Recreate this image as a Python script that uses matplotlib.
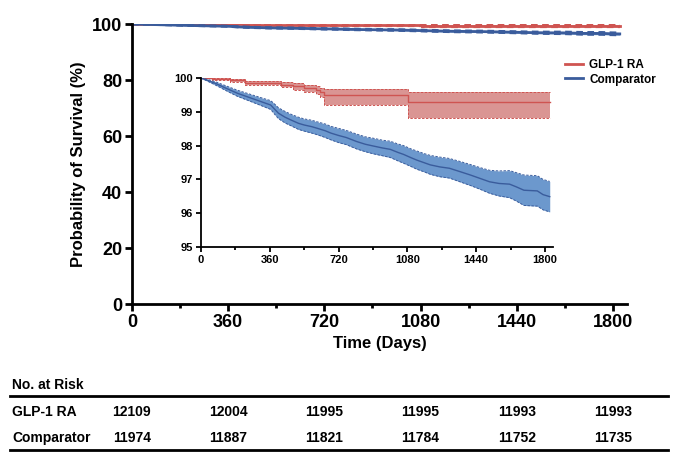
import matplotlib
matplotlib.use("Agg")
import matplotlib.pyplot as plt
from matplotlib.lines import Line2D
from matplotlib.ticker import MultipleLocator
import matplotlib.transforms as mtransforms

plt.rcParams['font.family'] = ['Liberation Sans', 'DejaVu Sans']
plt.rcParams['font.weight'] = 'bold'

# Kaplan-Meier estimates (days, survival %, 95% CI)
glp_days = [0, 60, 150, 230, 420, 480, 540, 600, 625, 645, 1085, 1825]
glp_surv = [100, 99.98, 99.93, 99.85, 99.80, 99.75, 99.70, 99.65, 99.58, 99.50, 99.30, 99.30]
glp_upper = [100, 100, 99.98, 99.92, 99.88, 99.84, 99.80, 99.76, 99.70, 99.67, 99.58, 99.58]
glp_lower = [100, 99.95, 99.88, 99.78, 99.72, 99.66, 99.60, 99.54, 99.44, 99.20, 98.81, 98.81]

cmp_days = [0, 40, 80, 130, 190, 240, 290, 330, 365, 385, 405, 440, 470, 510, 540,
            580, 610, 650, 680, 720, 760, 815, 860, 900, 950, 990, 1030, 1060, 1100,
            1130, 1170, 1200, 1250, 1300, 1350, 1410, 1460, 1510, 1560, 1615, 1650,
            1690, 1760, 1790, 1825]
cmp_surv = [100, 99.92, 99.83, 99.70, 99.55, 99.45, 99.35, 99.27, 99.20, 99.08, 98.96,
            98.84, 98.76, 98.66, 98.61, 98.56, 98.51, 98.44, 98.37, 98.30, 98.24, 98.12,
            98.04, 97.99, 97.93, 97.89, 97.80, 97.74, 97.64, 97.57, 97.49, 97.43, 97.37,
            97.33, 97.24, 97.13, 97.03, 96.93, 96.88, 96.86, 96.78, 96.68, 96.66, 96.55,
            96.49]
cmp_upper = [100, 99.95, 99.88, 99.77, 99.64, 99.55, 99.46, 99.39, 99.33, 99.23, 99.12,
             99.01, 98.93, 98.84, 98.79, 98.75, 98.70, 98.64, 98.57, 98.51, 98.45, 98.34,
             98.26, 98.22, 98.16, 98.13, 98.05, 98.00, 97.90, 97.84, 97.76, 97.71, 97.66,
             97.62, 97.54, 97.44, 97.35, 97.27, 97.25, 97.26, 97.20, 97.13, 97.11, 97.00,
             96.94]
cmp_lower = [100, 99.89, 99.78, 99.63, 99.46, 99.35, 99.24, 99.15, 99.07, 98.93, 98.80,
             98.67, 98.59, 98.48, 98.43, 98.37, 98.32, 98.24, 98.17, 98.09, 98.03, 97.90,
             97.82, 97.76, 97.70, 97.65, 97.55, 97.48, 97.38, 97.30, 97.22, 97.15, 97.08,
             97.04, 96.94, 96.82, 96.71, 96.59, 96.51, 96.46, 96.36, 96.23, 96.21, 96.10,
             96.04]

risk_times = [0, 360, 720, 1080, 1440, 1800]
risk_glp = [12109, 12004, 11995, 11995, 11993, 11993]
risk_cmp = [11974, 11887, 11821, 11784, 11752, 11735]

red_line, red_fill = '#cf5451', '#da9593'
blue_line, blue_fill = '#3a5c9c', '#6c98cd'

# the comparator has many tiny steps, so a plain line reads closer than coarse stairs
groups = [
    ('GLP-1 RA', glp_days, glp_surv, glp_lower, glp_upper, red_line, red_fill, 'post'),
    ('Comparator', cmp_days, cmp_surv, cmp_lower, cmp_upper, blue_line, blue_fill, None),
]


def draw_km(ax, lw, band_lw, dash):
    for label, t, s, lo, hi, lc, fc, step in groups:
        ds = 'steps-post' if step else 'default'
        ax.fill_between(t, lo, hi, step=step, color=fc, lw=0)
        ax.plot(t, lo, drawstyle=ds, color=lc, lw=band_lw, ls=(0, dash))
        ax.plot(t, hi, drawstyle=ds, color=lc, lw=band_lw, ls=(0, dash))
        ax.plot(t, s, drawstyle=ds, color=lc, lw=lw)


def style_axes(ax, lw, size, ticklen):
    for side in ['top', 'right']:
        ax.spines[side].set_visible(False)
    for side in ['left', 'bottom']:
        ax.spines[side].set_linewidth(lw)
    ax.tick_params(width=lw, length=ticklen, labelsize=size, pad=2)
    ax.tick_params(which='minor', width=lw, length=ticklen * 0.6)
    for lab in ax.get_xticklabels() + ax.get_yticklabels():
        lab.set_fontweight('bold')


fig = plt.figure(figsize=(6.8, 4.63), dpi=100)

ax = fig.add_axes([0.194, 0.343, 0.728, 0.605])
draw_km(ax, 2.0, 1.6, (3, 2))
ax.set_xlim(0, 1852)
ax.set_ylim(0, 100)
ax.xaxis.set_major_locator(MultipleLocator(360))
ax.xaxis.set_minor_locator(MultipleLocator(180))
ax.yaxis.set_major_locator(MultipleLocator(20))
style_axes(ax, 2.0, 13, 5)
ax.set_xlabel('Time (Days)', fontsize=12, fontweight='bold', labelpad=4)
ax.set_ylabel('Probability of Survival (%)', fontsize=12, fontweight='bold', labelpad=4)

ins = fig.add_axes([0.2956, 0.4665, 0.5176, 0.365])
draw_km(ins, 1.0, 0.7, (2.5, 1.5))
ins.set_xlim(0, 1842)
ins.set_ylim(95, 100)
ins.xaxis.set_major_locator(MultipleLocator(360))
ins.xaxis.set_minor_locator(MultipleLocator(180))
ins.yaxis.set_major_locator(MultipleLocator(1))
style_axes(ins, 1.3, 8, 3.5)

handles = [Line2D([], [], color=g[5], lw=2) for g in groups]
fig.legend(handles, [g[0] for g in groups], loc='upper left',
           bbox_to_anchor=(0.815, 0.895), frameon=False, handlelength=1.5,
           handletextpad=0.55, labelspacing=0.2, prop={'size': 8.5, 'weight': 'bold'})

# number-at-risk table under the main axes
trans = mtransforms.blended_transform_factory(ax.transData, fig.transFigure)
fig.text(0.018, 0.168, 'No. at Risk', fontsize=10, fontweight='bold', va='center')
fig.add_artist(Line2D([0.015, 0.982], [0.145, 0.145], color='black', lw=2))
fig.add_artist(Line2D([0.015, 0.982], [0.028, 0.028], color='black', lw=2))
for name, counts, y in [('GLP-1 RA', risk_glp, 0.110), ('Comparator', risk_cmp, 0.054)]:
    fig.text(0.018, y, name, fontsize=10, fontweight='bold', va='center')
    for t, n in zip(risk_times, counts):
        fig.text(t, y, str(n), transform=trans, fontsize=10, fontweight='bold',
                 ha='center', va='center')

fig.savefig('out.png', dpi=100)
